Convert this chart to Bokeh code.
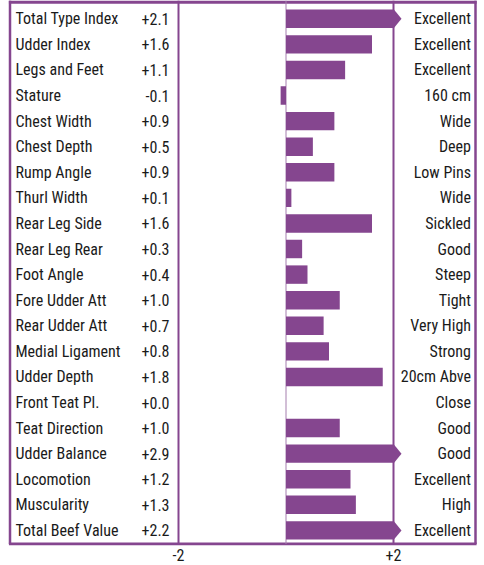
from bokeh.plotting import figure
from bokeh.models import Range1d, FixedTicker, ColumnDataSource
from bokeh.core.properties import value
from bokeh.embed import file_html
from bokeh.resources import INLINE

traits = ["Total Type Index", "Udder Index", "Legs and Feet", "Stature", "Chest Width",
          "Chest Depth", "Rump Angle", "Thurl Width", "Rear Leg Side", "Rear Leg Rear",
          "Foot Angle", "Fore Udder Att", "Rear Udder Att", "Medial Ligament", "Udder Depth",
          "Front Teat Pl.", "Teat Direction", "Udder Balance", "Locomotion", "Muscularity",
          "Total Beef Value"]
values = [2.1, 1.6, 1.1, -0.1, 0.9, 0.5, 0.9, 0.1, 1.6, 0.3, 0.4, 1.0, 0.7, 0.8, 1.8,
          0.0, 1.0, 2.9, 1.2, 1.3, 2.2]
descriptors = ["Excellent", "Excellent", "Excellent", "160 cm", "Wide", "Deep", "Low Pins",
               "Wide", "Sickled", "Good", "Steep", "Tight", "Very High", "Strong",
               "20cm Abve", "Close", "Good", "Good", "Excellent", "High", "Excellent"]
tick_values = [-2, 2]
tick_labels = {-2: "-2", 2: "+2"}
clip = 2.0

# layout (pixel geometry of the frame -> data units)
W, H = 484, 545
ZERO_PX, PX_PER_UNIT = 285.5, 53.75
ROW0_PX, ROW_PX = 18.3, 25.58

def xv(px):
    return (px - ZERO_PX) / PX_PER_UNIT

def yv(py):
    return (py - ROW0_PX) / ROW_PX

PURPLE = "#85468f"
TEXT = "#1a1a1a"
FONT_NAME = "Roboto Condensed"
FONT = value(FONT_NAME)
FS = "16px"

n = len(traits)
rows = list(range(n))
src = ColumnDataSource(dict(
    y=rows,
    right=[min(v, clip) for v in values],
    trait=traits,
    val=[f"{v:+.1f}" for v in values],
    desc=descriptors,
))

p = figure(frame_width=W, frame_height=H, output_backend="svg", toolbar_location=None,
           x_range=Range1d(xv(0), xv(W)), y_range=Range1d(yv(H), yv(0)),
           y_axis_location=None, min_border=0, outline_line_color=None,
           background_fill_color="white", border_fill_color="white")
p.grid.visible = False

# frame decoration
left_b, right_b = xv(9.5), xv(475)
top_b, bot_b = yv(0), yv(543.5)
p.quad(left=left_b - 0.02, right=right_b + 0.02, top=top_b, bottom=yv(3.2),
       fill_color=PURPLE, line_color=None)
p.segment(x0=[left_b, right_b], y0=[top_b, top_b], x1=[left_b, right_b], y1=[bot_b, bot_b],
          line_color=PURPLE, line_width=2.5)
p.segment(x0=[left_b - 0.02], y0=[bot_b], x1=[right_b + 0.02], y1=[bot_b],
          line_color=PURPLE, line_width=3)
p.segment(x0=tick_values, y0=[top_b] * 2, x1=tick_values, y1=[bot_b] * 2,
          line_color=PURPLE, line_width=2)
p.segment(x0=[0], y0=[top_b], x1=[0], y1=[bot_b], line_color="#a57fae", line_width=1)

# bars
p.hbar(y="y", left=0, right="right", height=0.72, source=src,
       fill_color=PURPLE, line_color=None)

# arrows for clipped bars
xs, ys = [], []
for i, v in enumerate(values):
    if v > clip:
        xs.append([clip, clip + 8 / PX_PER_UNIT, clip])
        ys.append([i - 0.38, i, i + 0.38])
p.patches(xs=xs, ys=ys, fill_color=PURPLE, line_color=None)

# texts
p.text(x=xv(15), y="y", text="trait", source=src, text_font=FONT, text_font_size=FS,
       text_color=TEXT, text_align="left", text_baseline="middle")
p.text(x=xv(169), y="y", text="val", source=src, text_font=FONT, text_font_size=FS,
       text_color=TEXT, text_align="right", text_baseline="middle")
p.text(x=xv(470.5), y="y", text="desc", source=src, text_font=FONT, text_font_size=FS,
       text_color=TEXT, text_align="right", text_baseline="middle")

ax = p.xaxis[0]
ax.ticker = FixedTicker(ticks=tick_values)
ax.major_label_overrides = tick_labels
ax.axis_line_color = None
ax.major_tick_line_color = None
ax.minor_tick_line_color = None
ax.major_tick_out = 0
ax.major_label_standoff = 3
ax.major_label_text_font = FONT_NAME
ax.major_label_text_font_size = FS
ax.major_label_text_color = TEXT

html = file_html(p, INLINE)
html = html.replace("<body>", '<body style="margin:0">')
open("out.html", "w").write(html)
